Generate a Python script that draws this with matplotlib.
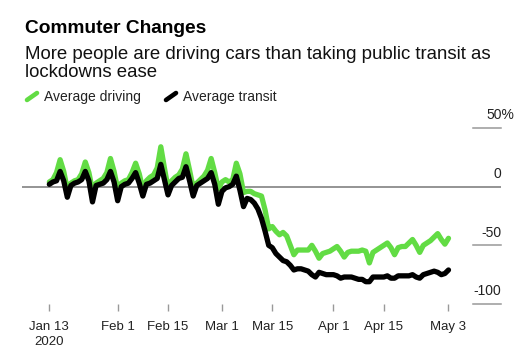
import pandas as pd
import matplotlib
matplotlib.use("Agg")
import matplotlib.pyplot as plt
from matplotlib.lines import Line2D
from matplotlib.transforms import blended_transform_factory

# daily change vs Jan 13 baseline (%)
start_date = "2020-01-13"
driving = [4, 6, 12, 23, 13, -2, 3, 5, 6, 11,
           21, 12, -3, 3, 5, 7, 12, 24, 13, -2,
           3, 5, 6, 12, 20, 11, -2, 5, 8, 10,
           16, 34, 16, -1, 5, 8, 10, 15, 28, 14,
           -1, 3, 6, 9, 14, 24, 12, -2, 4, 6,
           4, 6, 20, 11, -5, -4, -4, -6, -7, -8,
           -20, -36, -34, -38, -41, -39, -42, -50, -58, -54,
           -54, -54, -54, -50, -55, -61, -57, -56, -55, -53,
           -51, -55, -60, -56, -55, -55, -55, -54, -55, -65,
           -56, -54, -52, -50, -48, -52, -58, -52, -51, -51,
           -48, -45, -50, -56, -50, -48, -46, -43, -40, -45,
           -49, -44]
transit = [2, 4, 5, 13, 5, -9, 1, 3, 4, 6,
           13, 5, -13, 1, 2, 3, 6, 13, 4, -12,
           0, 2, 3, 7, 12, 3, -8, 2, 3, 5,
           7, 19, 6, -7, 1, 4, 7, 8, 17, 5,
           -8, 1, 3, 5, 7, 12, 2, -15, -4, -1,
           0, 2, 9, -3, -17, -10, -11, -14, -19, -27,
           -38, -50, -52, -57, -60, -63, -64, -67, -71, -70,
           -70, -71, -72, -75, -77, -73, -74, -75, -75, -75,
           -76, -78, -77, -77, -77, -78, -79, -79, -81, -81,
           -77, -77, -77, -77, -76, -78, -78, -76, -76, -76,
           -76, -75, -77, -78, -75, -74, -73, -72, -73, -75,
           -74, -71]

tick_dates = ["2020-01-13", "2020-02-01", "2020-02-15", "2020-03-01",
              "2020-03-15", "2020-04-01", "2020-04-15", "2020-05-03"]
tick_labels = ["Jan 13\n2020", "Feb 1", "Feb 15", "Mar 1",
               "Mar 15", "Apr 1", "Apr 15", "May 3"]
y_ticks = [50, 0, -50, -100]
y_labels = ["50%", "0", "-50", "-100"]

GREEN = "#62dc44"
W, H = 530, 352

plt.rcParams["font.family"] = ["Liberation Sans", "DejaVu Sans"]
fig = plt.figure(figsize=(W / 100, H / 100), dpi=100)
ax = fig.add_axes([22 / W, 1 - 304 / H, (501 - 22) / W, (304 - 128) / H])

dates = pd.date_range(start_date, periods=len(driving), freq="D")
t0 = pd.Timestamp(start_date)

ax.axhline(0, color="#777777", lw=1.1, zorder=1)
ax.plot(dates, driving, color=GREEN, lw=3.8, solid_joinstyle="round",
        solid_capstyle="round", zorder=2)
ax.plot(dates, transit, color="black", lw=3.8, solid_joinstyle="round",
        solid_capstyle="round", zorder=3)

ax.set_xlim(t0 - pd.Timedelta(days=7.6), t0 + pd.Timedelta(days=125.6))
ax.set_ylim(-100, 50)

# right-hand value labels with short rules; the % hangs past the edge
tr = blended_transform_factory(ax.transAxes, ax.transData)
for v, lab in zip(y_ticks, y_labels):
    if v != 0:
        ax.plot([0.9415, 1.0], [v, v], transform=tr, color="#999999",
                lw=1.1, clip_on=False)
    dx = 9.4 if lab.endswith("%") else 0
    ax.annotate(lab, xy=(1, v), xycoords=tr, xytext=(dx, 6.3),
                textcoords="offset points", ha="right", va="baseline",
                fontsize=10, color="#222222")

ax.set_yticks([])
ax.set_xticks(pd.to_datetime(tick_dates))
ax.set_xticklabels(tick_labels, fontsize=9.5, color="#222222",
                   linespacing=1.4)
ax.tick_params(axis="x", length=5, color="#999999", width=1, pad=7)
for s in ax.spines.values():
    s.set_visible(False)

# title block
fig.text(25 / W, 1 - 33.3 / H, "Commuter Changes", fontsize=13.8,
         weight="bold", va="baseline", color="black")
fig.text(25 / W, 1 - 58.7 / H,
         "More people are driving cars than taking public transit as",
         fontsize=13.4, va="baseline", color="#111111")
fig.text(25 / W, 1 - 77.3 / H, "lockdowns ease", fontsize=13.4,
         va="baseline", color="#111111")

# legend
fig.add_artist(Line2D([27 / W, 37 / W], [1 - 100 / H, 1 - 93 / H],
                      transform=fig.transFigure, color=GREEN, lw=3.3,
                      solid_capstyle="round"))
fig.text(44 / W, 1 - 100.5 / H, "Average driving", fontsize=10,
         va="baseline", color="#222222")
fig.add_artist(Line2D([166 / W, 176 / W], [1 - 100 / H, 1 - 93 / H],
                      transform=fig.transFigure, color="black", lw=3.3,
                      solid_capstyle="round"))
fig.text(183 / W, 1 - 100.5 / H, "Average transit", fontsize=10,
         va="baseline", color="#222222")

fig.savefig("out.png", dpi=100)
